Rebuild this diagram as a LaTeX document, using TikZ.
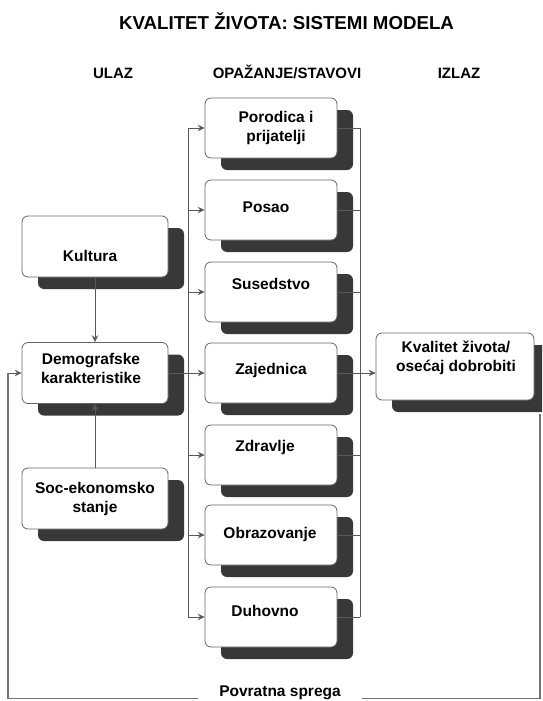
\documentclass[tikz,border=0pt]{standalone}
\usepackage{fontspec}
\setmainfont{Liberation Sans}
\usetikzlibrary{arrows.meta,shadows}
\begin{document}
\begin{tikzpicture}[x=1pt,y=-1pt,
  box/.style={draw=black!60, line width=0.8pt, fill=white, rounded corners=6pt, inner sep=0pt,
     drop shadow={shadow xshift=16pt, shadow yshift=-12pt, fill=black!78, opacity=1}},
  mid/.style={box, minimum width=132pt, minimum height=60pt},
  lft/.style={box, minimum width=146pt, minimum height=61pt},
  txt/.style={font=\fontsize{15.5}{19}\selectfont\bfseries, align=center, inner sep=0pt},
  one/.style={txt, text height=11pt, text depth=0pt},
  head/.style={font=\fontsize{15}{18}\selectfont\bfseries, inner sep=0pt, text height=11pt, text depth=0pt},
  conn/.style={draw=black!65, line width=0.8pt},
  arr/.style={conn, -{Stealth[length=7pt,width=6.5pt,inset=2.5pt]}},
  fb/.style={draw=black!55, line width=1.2pt}]
\useasboundingbox (0,0) rectangle (542,701);
\clip (0,0) rectangle (542,701);

% titles
\node[font=\fontsize{18.7}{22}\selectfont\bfseries, inner sep=0pt, text height=13.4pt, text depth=0pt] (title) at (286.5,22.5) {KVALITET ŽIVOTA: SISTEMI MODELA};
\node[head] (ulaz) at (113,72.5) {ULAZ};
\node[head] (opaz) at (287,72.5) {OPAŽANJE/STAVOVI};
\node[head] (izlaz) at (459,72.5) {IZLAZ};

% middle column
\node[mid] (por) at (271,128) {};
\node[mid] (pos) at (271,210) {};
\node[mid] (sus) at (271,292) {};
\node[mid] (zaj) at (271,373) {};
\node[mid] (zdr) at (271,455) {};
\node[mid] (obr) at (271,535) {};
\node[mid] (duh) at (271,617) {};

% left column
\node[lft] (kul) at (95,246.5) {};
\node[lft] (dem) at (95,373) {};
\node[lft] (soc) at (95,498.5) {};

% output
\node[box, minimum width=158pt, minimum height=67pt] (kva) at (455,366.5) {};

% bus coordinates
\coordinate (bl) at (188,0);
\coordinate (br) at (360,0);
\coordinate (kvaC) at (540,414);
\coordinate (fbR) at (540,698.5);
\coordinate (fbL) at (8,698.5);

% connectors
\draw[arr] (kul.south) -- (dem.north);
\draw[arr] (soc.north) -- (dem.south);
\draw[conn] (bl |- por.west) -- (bl |- duh.west);
\foreach \n in {por,pos,sus,zdr,obr,duh}{
  \draw[arr] (bl |- \n.west) -- (\n.west);
}
\draw[arr] (dem.east) -- (zaj.west);
\draw[conn] (br |- por.east) -- (br |- duh.east);
\foreach \n in {por,pos,sus,zaj,zdr,obr,duh}{
  \draw[conn] (\n.east) -- (br |- \n.east);
}
\draw[arr] (br |- zaj.east) -- (kva.west |- zaj.east);

% feedback
\node[one, inner xsep=21pt] (pov) at (280,691) {Povratna sprega};
\draw[fb] (kvaC) -- (fbR) -- (fbR -| pov.east);
\draw[fb] (fbL -| pov.west) -- (fbL) -- (fbL |- dem.west);
\draw[arr] (fbL |- dem.west) -- (dem.west);

% texts
\node[txt] (porT) at (276,128) {Porodica i\\prijatelji};
\node[one] (posT) at (266,207) {Posao};
\node[one] (susT) at (271,284) {Susedstvo};
\node[one] (zajT) at (271,369) {Zajednica};
\node[one] (zdrT) at (265,446) {Zdravlje};
\node[one] (obrT) at (270,533) {Obrazovanje};
\node[one] (duhT) at (265,611) {Duhovno};
\node[one] (kulT) at (90,256) {Kultura};
\node[txt] (demT) at (91,368) {Demografske\\karakteristike};
\node[txt] (socT) at (95,499) {Soc-ekonomsko\\stanje};
\node[txt] (kvaT) at (456,358) {Kvalitet života/\\osećaj dobrobiti};
\end{tikzpicture}
\end{document}
